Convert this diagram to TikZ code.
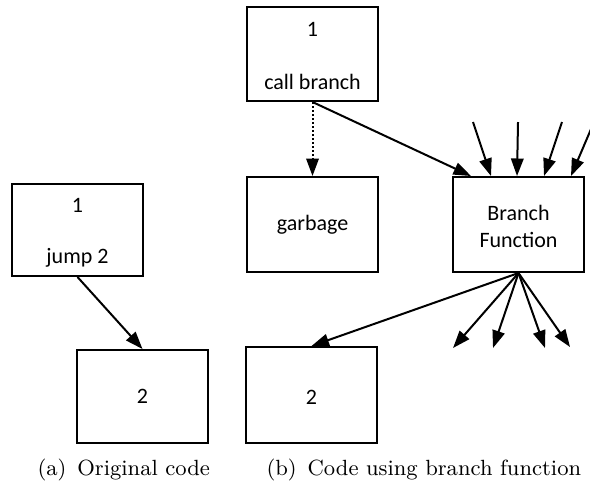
\documentclass[tikz,border=0pt]{standalone}
\usepackage{fontspec}
\newfontfamily\boxfont{Carlito}
\usetikzlibrary{arrows.meta}
\begin{document}
\begin{tikzpicture}[x=0.4pt,y=-0.4pt,
  block/.style={draw,line width=0.8pt,inner sep=0pt,minimum width=52.4pt},
  btext/.style={inner sep=0pt,font=\boxfont\fontsize{8.8}{10.8}\selectfont,align=center},
  flow/.style={line width=0.8pt,-{Triangle[length=7pt,width=5pt]}},
  captxt/.style={inner sep=0pt,anchor=base west,font=\fontsize{8.8}{10.6}\selectfont}]
\useasboundingbox (0,0) rectangle (590,482);

% (a) original code
\node[block,minimum height=36.8pt] (a1) at (77.5,230) {};
\node[btext] (a1n) at (77.5,205) {1};
\node[btext] (a1j) at (77.5,258) {jump 2};
\node[block,minimum height=37.2pt] (a2) at (142.5,396.5) {};
\node[btext] (a2n) at (142.5,396) {2};
\draw[flow] (a1.south) -- (a2.north);

% (b) code using a branch function
\node[block,minimum height=37.6pt] (b1) at (312.5,54) {};
\node[btext] (b1n) at (312.5,29) {1};
\node[btext] (b1c) at (312.5,82) {call branch};
\node[block,minimum height=38pt] (gb) at (312.5,224.5) {};
\node[btext] (gbt) at (gb.center) {garbage};
\node[block,minimum height=38pt] (bf) at (518.5,224.5) {};
\node[btext] (bft) at (518.5,226) {Branch\\Function};
\node[block,minimum height=38.4pt] (b2) at (311.5,395) {};
\node[btext] (b2n) at (311.5,397) {2};

\draw[flow,dash pattern=on 0.8pt off 0.8pt] (b1.south) -- (gb.north);
\draw[flow] (b1.south) -- ([xshift=7.6pt]bf.north west);

% incoming calls from elsewhere
\coordinate (i1) at (473,122);
\coordinate (i2) at (518,122);
\coordinate (i3) at (562,122);
\coordinate (i4) at (594,122);
\draw[flow] (i1) -- ([xshift=15.6pt]bf.north west);
\draw[flow] (i2) -- ([xshift=26pt]bf.north west);
\draw[flow] (i3) -- ([xshift=36.8pt]bf.north west);
\draw[flow] (i4) -- ([xshift=47.6pt]bf.north west);

% outgoing returns
\coordinate (o1) at (453,348);
\coordinate (o2) at (493,348);
\coordinate (o3) at (545,348);
\coordinate (o4) at (570,347);
\draw[flow] (bf.south) -- (b2.north);
\foreach \t in {o1,o2,o3,o4} \draw[flow] (bf.south) -- (\t);

% captions
\node[captxt] (capa) at (37,475) {(a)\hspace{0.5em}Original code};
\node[captxt] (capb) at (266,475) {(b)\hspace{0.5em}Code using branch function};
\end{tikzpicture}
\end{document}
